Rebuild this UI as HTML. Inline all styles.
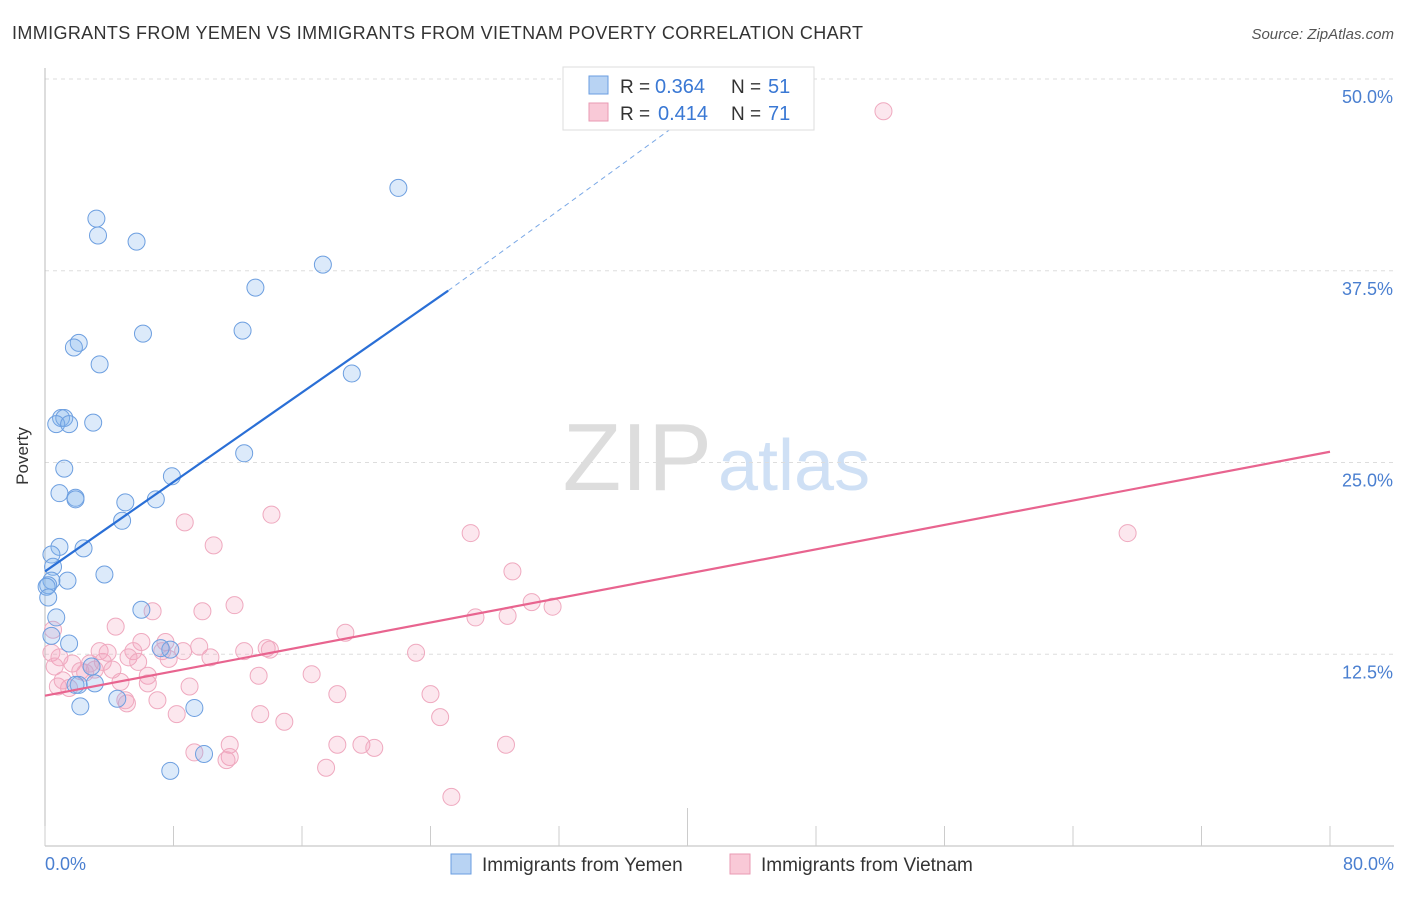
<!DOCTYPE html>
<html><head><meta charset="utf-8"><style>
body{margin:0;background:#fff;font-family:"Liberation Sans",sans-serif}
svg text{font-family:"Liberation Sans",sans-serif}
</style></head><body>
<svg width="1406" height="892">
<text x="12" y="39" font-size="18" fill="#333" textLength="851" lengthAdjust="spacing">IMMIGRANTS FROM YEMEN VS IMMIGRANTS FROM VIETNAM POVERTY CORRELATION CHART</text>
<text x="1394" y="39" font-size="15" fill="#555" text-anchor="end" font-style="italic">Source: ZipAtlas.com</text>
<text x="712" y="490" font-size="96" fill="#ddd" text-anchor="end" font-family="Liberation Serif">ZIP</text>
<text x="718" y="490" font-size="72" fill="#cfe0f5">atlas</text>
<g id="grid"></g>
<line x1="45" y1="68" x2="45" y2="846" stroke="#bbb"/>
<line x1="45" y1="846" x2="1394" y2="846" stroke="#bbb"/>
<g id="ticks"></g>
<text x="28" y="456" font-size="17" fill="#333" text-anchor="middle" transform="rotate(-90 28 456)">Poverty</text>
<text x="45" y="870" font-size="18" fill="#4a7fd0">0.0%</text>
<text x="1394" y="870" font-size="18" fill="#4a7fd0" text-anchor="end">80.0%</text>
<g id="pts"></g>
<g id="lines"></g>
<g>
<rect x="563" y="67" width="251" height="63" fill="#fff" stroke="#ddd"/>
<rect x="589" y="76" width="19" height="18" fill="#b8d3f3" stroke="#6a9ee0"/>
<rect x="589" y="103" width="19" height="18" fill="#f9c9d7" stroke="#e99ab3"/>
<text x="620" y="93" font-size="19" fill="#333">R =</text>
<text x="655" y="93" font-size="20" fill="#3a78d4">0.364</text>
<text x="731" y="93" font-size="19" fill="#333">N =</text>
<text x="768" y="93" font-size="20" fill="#3a78d4">51</text>
<text x="620" y="120" font-size="19" fill="#333">R =</text>
<text x="658" y="120" font-size="20" fill="#3a78d4">0.414</text>
<text x="731" y="120" font-size="19" fill="#333">N =</text>
<text x="768" y="120" font-size="20" fill="#3a78d4">71</text>
</g>
<g>
<rect x="451" y="854" width="20" height="20" fill="#b8d3f3" stroke="#6a9ee0"/>
<text x="482" y="871" font-size="19" fill="#333">Immigrants from Yemen</text>
<rect x="730" y="854" width="20" height="20" fill="#f9c9d7" stroke="#e99ab3"/>
<text x="761" y="871" font-size="19" fill="#333">Immigrants from Vietnam</text>
</g>
</svg>
<script>
const yTicks=[12.5,25,37.5,50];
const yTickLabels=["12.5%","25.0%","37.5%","50.0%"];
const xTicks=[0,8,16,24,32,40,48,56,64,72,80];
const yemenX=[22.0,3.2,3.3,5.7,17.3,13.1,6.1,12.3,2.1,1.8,3.4,19.1,1.0,1.2,0.7,1.5,3.0,1.2,12.4,7.9,0.9,1.9,1.9,5.0,6.9,4.8,2.4,0.9,0.4,0.5,3.7,0.4,0.2,1.4,0.1,0.2,0.7,6.0,7.8,1.5,2.1,1.9,3.1,4.5,2.2,9.3,9.9,7.8,0.4,2.9,7.2];
const yemenY=[42.9,40.9,39.8,39.4,37.9,36.4,33.4,33.6,32.8,32.5,31.4,30.8,27.9,27.9,27.5,27.5,27.6,24.6,25.6,24.1,23.0,22.7,22.6,22.4,22.6,21.2,19.4,19.5,19.0,18.2,17.7,17.3,17.0,17.3,16.9,16.2,14.9,15.4,12.8,13.2,10.5,10.5,10.6,9.6,9.1,9.0,6.0,4.9,13.7,11.7,12.9];
const vietX=[52.2,67.4,26.5,14.1,8.7,10.5,29.1,11.8,6.7,9.8,30.3,31.6,26.8,28.8,18.7,4.4,6.0,7.5,9.6,13.8,14.0,12.4,3.4,5.5,23.1,0.4,0.9,1.7,5.2,7.7,8.6,7.3,10.3,3.6,4.2,6.4,16.6,13.3,2.2,2.5,3.1,4.7,6.4,9.0,1.5,0.8,18.2,24.0,7.0,5.1,8.2,13.4,14.9,24.6,11.5,18.2,19.7,20.5,28.7,9.3,11.5,11.3,17.5,25.3,0.5,1.1,2.8,3.9,5.8,0.6,5.0];
const vietY=[47.9,20.4,20.4,21.6,21.1,19.6,17.9,15.7,15.3,15.3,15.9,15.6,14.9,15.0,13.9,14.3,13.3,13.3,13.0,12.9,12.8,12.7,12.7,12.7,12.6,12.6,12.3,11.9,12.3,12.2,12.7,12.7,12.3,12.0,11.5,11.1,11.2,11.1,11.4,11.3,11.5,10.7,10.6,10.4,10.3,10.4,9.9,9.9,9.5,9.3,8.6,8.6,8.1,8.4,6.6,6.6,6.6,6.4,6.6,6.1,5.8,5.6,5.1,3.2,14.1,10.8,11.9,12.6,12.0,11.7,9.5];
const yemenFit=[[0,17.9],[25.1,36.2],[41,48.3]];
const vietFit=[[0,9.8],[80,25.7]];
const X=v=>45+v/80*1285, Y=v=>846-v/50*767;
const NS="http://www.w3.org/2000/svg";
function mk(t,a,p){const e=document.createElementNS(NS,t);for(const k in a)e.setAttribute(k,a[k]);p.appendChild(e);return e;}
const grid=document.getElementById('grid'),ticks=document.getElementById('ticks');
yTicks.forEach((v,i)=>{
 const l=mk('line',{x1:45,x2:1394,y1:Y(v),y2:Y(v),stroke:'#ddd','stroke-dasharray':'4,4'},grid);
 
 
 const t=mk('text',{x:1393,y:Y(v)+24,'font-size':18,fill:'#4a7fd0','text-anchor':'end'},ticks);
 t.textContent=yTickLabels[i];
 
 
});
xTicks.forEach((v,i)=>{
 const l=mk('line',{x1:X(v),x2:X(v),y1:(i==5?808:826),y2:846,stroke:'#ccc'},ticks);
 
 
});
const pts=document.getElementById('pts');
vietX.forEach((v,i)=>{
 const c=mk('circle',{cx:X(v),cy:Y(vietY[i]),r:8.5,fill:'rgba(244,160,188,0.25)',stroke:'#efa9bf','stroke-width':1},pts);
 
 
});
yemenX.forEach((v,i)=>{
 const c=mk('circle',{cx:X(v),cy:Y(yemenY[i]),r:8.5,fill:'rgba(130,178,238,0.28)',stroke:'#6d9fe0','stroke-width':1},pts);
 
 
});
const lg=document.getElementById('lines');
const l1=mk('line',{x1:X(yemenFit[0][0]),y1:Y(yemenFit[0][1]),x2:X(yemenFit[1][0]),y2:Y(yemenFit[1][1]),stroke:'#2a6fd6','stroke-width':2.2},lg);


const l2=mk('line',{x1:X(yemenFit[1][0]),y1:Y(yemenFit[1][1]),x2:X(yemenFit[2][0]),y2:Y(yemenFit[2][1]),stroke:'#7aa8e6','stroke-width':1,'stroke-dasharray':'5,4'},lg);


const l3=mk('line',{x1:X(vietFit[0][0]),y1:Y(vietFit[0][1]),x2:X(vietFit[1][0]),y2:Y(vietFit[1][1]),stroke:'#e8648f','stroke-width':2.2},lg);


</script>
</body></html>
